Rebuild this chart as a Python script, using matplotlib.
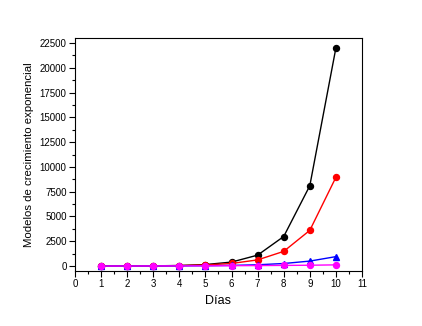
import numpy as np
import matplotlib
matplotlib.use('Agg')
import matplotlib.pyplot as plt
from matplotlib.ticker import MultipleLocator

plt.rcParams['font.family'] = ['Liberation Sans', 'DejaVu Sans']

# days and the four growth series
dias = [1, 2, 3, 4, 5, 6, 7, 8, 9, 10]
negro = [3, 7, 20, 55, 150, 400, 1100, 2980, 8100, 22000]
rojo = [3, 8, 18, 45, 110, 260, 620, 1480, 3600, 8950]
azul = [2, 4, 8, 16, 32, 64, 128, 256, 500, 950]
magenta = [1, 4, 9, 16, 25, 36, 49, 64, 81, 120]

fig = plt.figure(figsize=(4.22, 3.26), dpi=100)
ax = fig.add_axes([0.1777, 0.1687, 0.6801, 0.7147])

ax.plot(dias, negro, color='black', lw=1, marker='o', ms=4.3, zorder=3)
ax.plot(dias, rojo, color='red', lw=1, marker='o', ms=4.3, zorder=3)
ax.plot(dias, azul, color='blue', lw=1, marker='^', ms=4.8, zorder=3)
ax.plot(dias, magenta, color='magenta', lw=1, marker='o', ms=4.3, zorder=4)

ax.set_xlim(0, 11)
ax.set_ylim(-500, 23000)
ax.xaxis.set_major_locator(MultipleLocator(1))
ax.xaxis.set_minor_locator(MultipleLocator(0.5))
ax.yaxis.set_major_locator(MultipleLocator(2500))
ax.yaxis.set_minor_locator(MultipleLocator(1250))
ax.tick_params(which='major', length=4, width=0.8, labelsize=7, pad=2)
ax.tick_params(which='minor', length=2, width=0.8)
ax.tick_params(top=False, right=False)

ax.set_xlabel('Días', fontsize=9, labelpad=4)
ax.set_ylabel('Modelos de crecimiento exponencial', fontsize=8.2, labelpad=4)

fig.savefig('out.png', dpi=100)
